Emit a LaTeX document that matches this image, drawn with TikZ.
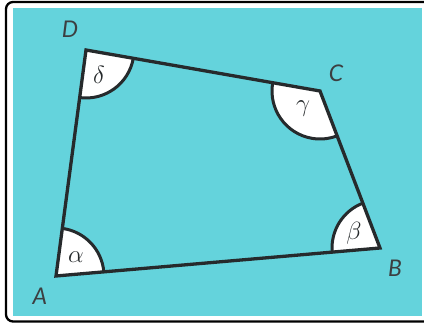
\documentclass[tikz,border=0pt]{standalone}
\usepackage{fontspec}
\newfontfamily\labelfont{Lato}
\usetikzlibrary{angles}
\definecolor{bgcyan}{HTML}{64D3DC}
\definecolor{ink}{HTML}{262A2C}
\tikzset{
  vlabel/.style={font=\labelfont\itshape\fontsize{23}{25}\selectfont, text=ink!90, inner sep=0pt},
  glabel/.style={font=\fontsize{28}{30}\selectfont, text=ink, inner sep=0pt},
  sector/.style={draw=ink, fill=white, line width=3pt, angle radius=48pt},
  edge/.style={draw=ink, line width=3.3pt, line join=miter}
}
\begin{document}
\begin{tikzpicture}[x=1pt,y=1pt]
\useasboundingbox (0,0) rectangle (424,323);
\clip (0,0) rectangle (424,323);
\fill[white] (0,0) rectangle (424,323);
\draw[black, line width=2.3pt, rounded corners=7pt] (6,1.5) rectangle (440,321);
\fill[bgcyan] (13,7) rectangle (422,315);
\coordinate (A) at (56,47);
\coordinate (B) at (380,75);
\coordinate (C) at (320,232);
\coordinate (D) at (86,273);
\pic[sector] {angle = B--A--D};
\pic[sector] {angle = C--B--A};
\pic[sector] {angle = D--C--B};
\pic[sector] {angle = A--D--C};
\draw[edge] (A) -- (B) -- (C) -- (D) -- cycle;
\node[vlabel] (lA) at (40,27) {A};
\node[vlabel] (lB) at (395,55) {B};
\node[vlabel] (lC) at (336,250) {C};
\node[vlabel] (lD) at (70,294) {D};
\node[glabel] (ga) at (76,66) {$\alpha$};
\node[glabel] (gb) at (354,90) {$\beta$};
\node[glabel] (gc) at (303,214) {$\gamma$};
\node[glabel] (gd) at (99,248) {$\delta$};
\end{tikzpicture}
\end{document}
